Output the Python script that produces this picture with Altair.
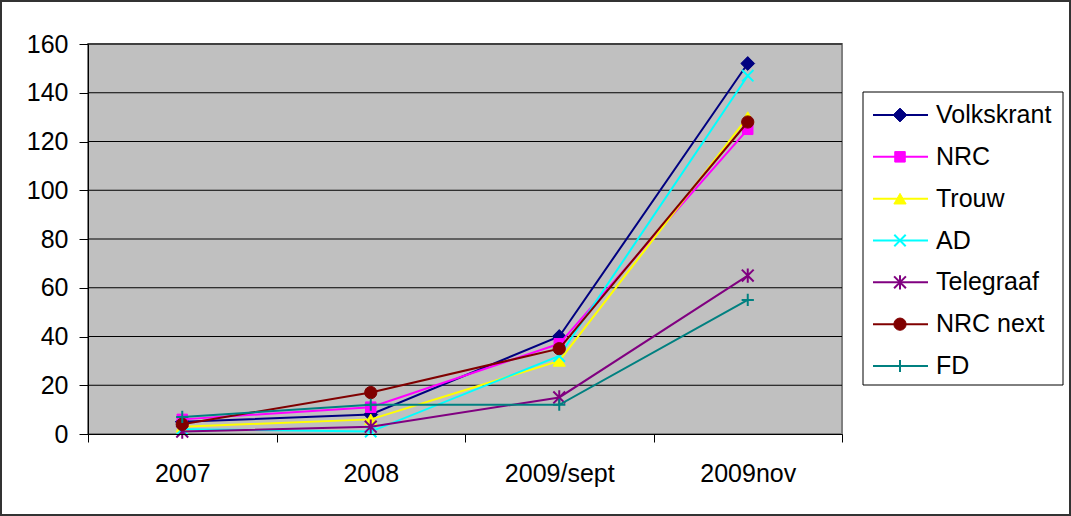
import altair as alt
import pandas as pd

# Survey periods (x axis) and newspapers (series)
periods = ["2007", "2008", "2009/sept", "2009nov"]
series_names = ["Volkskrant", "NRC", "Trouw", "AD", "Telegraaf", "NRC next", "FD"]

# Values per newspaper, one per period
volkskrant = [5, 8, 40, 152]
nrc = [6, 11, 37, 125]
trouw = [3, 6, 30, 130]
ad = [2, 1, 32, 147]
telegraaf = [1, 3, 15, 65]
nrc_next = [4, 17, 35, 128]
fd = [7, 12, 12, 55]

y_ticks = [0, 20, 40, 60, 80, 100, 120, 140, 160]

series_values = [volkskrant, nrc, trouw, ad, telegraaf, nrc_next, fd]

# Marker styling per series
X_PATH = "M-1,-1L1,1M-1,1L1,-1"
STAR_PATH = "M-1,-1L1,1M-1,1L1,-1M0,-1.2L0,1.2"
PLUS_PATH = "M0,-1L0,1M-1,0L1,0"
colors = ["#000080", "#FF00FF", "#FFFF00", "#00FFFF", "#800080", "#800000", "#008080"]
shapes = ["diamond", "square", "triangle-up", X_PATH, STAR_PATH, "circle", PLUS_PATH]
sizes = [190, 110, 150, 130, 140, 150, 150]
filled = [True, True, True, False, False, True, False]

rows = []
for name, vals in zip(series_names, series_values):
    for p, v in zip(periods, vals):
        rows.append({"series": name, "period": p, "value": v})
data = pd.DataFrame(rows)
legend_data = pd.DataFrame({"series": series_names})
grid_data = pd.DataFrame({"value": y_ticks[1:]})
frame_data = pd.DataFrame({"k": [0]})

FONT = "Liberation Sans"

x_enc = alt.X(
    "period:N",
    sort=periods,
    scale=alt.Scale(type="band", paddingInner=0, paddingOuter=0),
    bandPosition=0.5,
    axis=alt.Axis(
        title=None, labelAngle=0, tickBand="extent", grid=False,
        domainColor="black", tickColor="black", tickSize=8,
        labelFontSize=25, labelPadding=19, labelColor="black", labelFont=FONT,
        zindex=1,
    ),
)
y_scale = alt.Scale(domain=[0, 160], nice=False, zero=True)
y_enc = alt.Y(
    "value:Q",
    scale=y_scale,
    axis=alt.Axis(
        title=None, values=y_ticks, grid=False, domainColor="black",
        tickColor="black", tickSize=9, labelFontSize=25, labelPadding=11,
        labelColor="black", labelFont=FONT, zindex=1,
    ),
)

# Gray plot area with a gray border
plot_bg = alt.Chart(frame_data).mark_rect(fill="#C0C0C0", stroke="#808080", strokeWidth=2).encode(
    x=alt.value(0), x2=alt.value(754), y=alt.value(0), y2=alt.value(390)
)

# Horizontal gridlines at the tick values
grid = alt.Chart(grid_data).mark_rule(color="black", strokeWidth=1).encode(
    y=y_enc, x=alt.value(0), x2=alt.value(754)
)

# One line + marker layer per series, so later series draw on top
main_layers = [plot_bg, grid]
for name, col, shp, sz, fl in zip(series_names, colors, shapes, sizes, filled):
    base = alt.Chart(data).transform_filter(alt.datum.series == name)
    line = base.mark_line(color=col, strokeWidth=2).encode(x=x_enc, y=y_enc)
    if fl:
        pts = base.mark_point(shape=shp, size=sz, filled=True, fill=col,
                              stroke=col, strokeWidth=1, opacity=1)
    else:
        pts = base.mark_point(shape=shp, size=sz, filled=False, stroke=col,
                              strokeWidth=2, opacity=1)
    main_layers += [line, pts.encode(x=x_enc, y=y_enc)]

main = alt.layer(*main_layers)

# Legend, drawn to the right of the plot area
ly = alt.Y("series:N", sort=series_names,
           scale=alt.Scale(type="point", domain=series_names, range=[71, 322], padding=0),
           axis=None)

legend_box = alt.Chart(frame_data).mark_rect(fill="white", stroke="black", strokeWidth=1).encode(
    x=alt.value(775), x2=alt.value(975), y=alt.value(48), y2=alt.value(341)
)
outer_frame = alt.Chart(frame_data).mark_rect(filled=False, stroke="#333333", strokeWidth=2).encode(
    x=alt.value(-87), x2=alt.value(982), y=alt.value(-43), y2=alt.value(471)
)

legend_layers = [outer_frame, legend_box]
for name, col, shp, sz, fl in zip(series_names, colors, shapes, sizes, filled):
    base = alt.Chart(legend_data).transform_filter(alt.datum.series == name)
    seg = base.mark_rule(color=col, strokeWidth=2).encode(
        x=alt.value(785), x2=alt.value(840), y=ly
    )
    if fl:
        pt = base.mark_point(shape=shp, size=sz, filled=True, fill=col,
                             stroke=col, strokeWidth=1, opacity=1)
    else:
        pt = base.mark_point(shape=shp, size=sz, filled=False, stroke=col,
                             strokeWidth=2, opacity=1)
    legend_layers += [seg, pt.encode(x=alt.value(812), y=ly)]

legend_text = alt.Chart(legend_data).mark_text(
    align="left", baseline="middle", fontSize=25, font=FONT, color="black"
).encode(x=alt.value(848), y=ly, text="series:N")
legend_layers.append(legend_text)

legend = alt.layer(*legend_layers)

chart = (
    alt.layer(main, legend)
    .resolve_scale(y="independent")
    .properties(
        width=754,
        height=390,
        autosize=alt.AutoSizeParams(type="none"),
        padding={"left": 88, "top": 44, "right": 229, "bottom": 82},
        background="white",
    )
    .configure_view(strokeWidth=0)
    .configure(font=FONT)
)

chart.save("out.html", embed_options={"renderer": "svg", "actions": False})
